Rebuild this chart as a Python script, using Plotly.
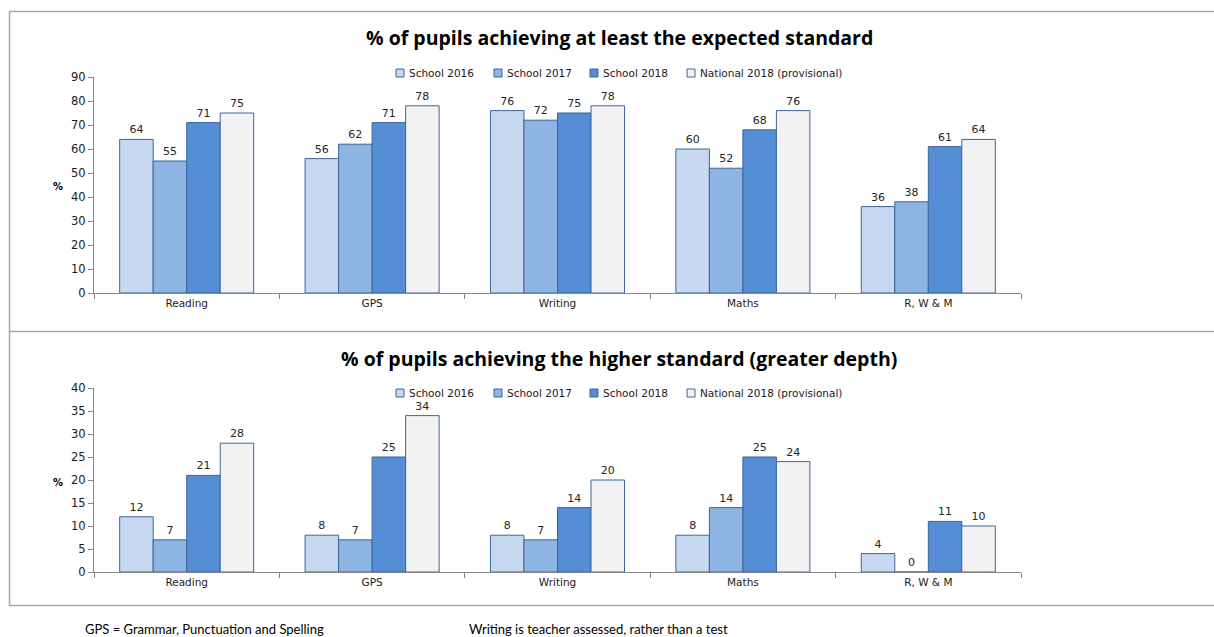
import plotly.graph_objects as go

categories = ["Reading", "GPS", "Writing", "Maths", "R, W & M"]
series_names = ["School 2016", "School 2017", "School 2018", "National 2018 (provisional)"]

expected_2016 = [64, 56, 76, 60, 36]
expected_2017 = [55, 62, 72, 52, 38]
expected_2018 = [71, 71, 75, 68, 61]
expected_nat = [75, 78, 78, 76, 64]

higher_2016 = [12, 8, 8, 8, 4]
higher_2017 = [7, 7, 7, 14, 0]
higher_2018 = [21, 25, 14, 25, 11]
higher_nat = [28, 34, 20, 24, 10]

title_top = "% of pupils achieving at least the expected standard"
title_bottom = "% of pupils achieving the higher standard (greater depth)"
note_left = "GPS = Grammar, Punctuation and Spelling"
note_right = "Writing is teacher assessed, rather than a test"

colors = ["#C6D9F1", "#8EB4E3", "#558ED5", "#F2F2F2"]
edge = "#3C659A"
W, H = 1214, 637
OFF = 0  # page body margin removed via post_script
FONT = "DejaVu Sans"
TFONT = "Open Sans"
NFONT = "Lato"

def px_x(x):
    return (x - OFF) / W

def px_y(y):
    return 1 - (y - OFF) / H

fig = go.Figure()

top_sets = [expected_2016, expected_2017, expected_2018, expected_nat]
bot_sets = [higher_2016, higher_2017, higher_2018, higher_nat]

for name, vals, c in zip(series_names, top_sets, colors):
    fig.add_trace(go.Bar(x=categories, y=vals, name=name, marker=dict(color=c, line=dict(color=edge, width=1)),
                         text=vals, textposition="outside", cliponaxis=False,
                         textfont=dict(size=11, color="#262626", family=FONT),
                         xaxis="x", yaxis="y", showlegend=False))
for name, vals, c in zip(series_names, bot_sets, colors):
    fig.add_trace(go.Bar(x=categories, y=vals, name=name, marker=dict(color=c, line=dict(color=edge, width=1)),
                         text=vals, textposition="outside", cliponaxis=False,
                         textfont=dict(size=11, color="#262626", family=FONT),
                         xaxis="x2", yaxis="y2", showlegend=False))

x_dom = [px_x(94), px_x(1021)]
axis_common = dict(showgrid=False, zeroline=False, showline=True, linecolor="#868686", linewidth=1,
                   ticks="outside", tickcolor="#868686", ticklen=5, fixedrange=True)
xfont = dict(size=10.5, family=FONT, color="#1a1a1a")
yfont = dict(size=11.5, family=FONT, color="#1a1a1a")

fig.update_layout(
    width=W, height=H,
    margin=dict(l=0, r=0, t=0, b=0, autoexpand=False),
    paper_bgcolor="white", plot_bgcolor="white",
    barmode="group", bargap=0.277, bargroupgap=0,
    font=dict(family=FONT),
    xaxis=dict(domain=x_dom, anchor="y", tickson="boundaries", tickfont=xfont, **axis_common),
    yaxis=dict(domain=[px_y(293), px_y(77)], anchor="x", range=[0, 90], dtick=10, tickfont=yfont, **axis_common),
    xaxis2=dict(domain=x_dom, anchor="y2", tickson="boundaries", tickfont=xfont, **axis_common),
    yaxis2=dict(domain=[px_y(572), px_y(388)], anchor="x2", range=[0, 40], dtick=5, tickfont=yfont, **axis_common),
    showlegend=False,
)

annotations = [
    dict(text="<b>" + title_top + "</b>", x=px_x(619), y=px_y(37), font=dict(size=19.5, family=TFONT, color="#000")),
    dict(text="<b>" + title_bottom + "</b>", x=px_x(619), y=px_y(358), font=dict(size=19.5, family=TFONT, color="#000")),
    dict(text="<b>%</b>", x=px_x(58), y=px_y(186), font=dict(size=10, family=FONT, color="#000")),
    dict(text="<b>%</b>", x=px_x(58), y=px_y(482), font=dict(size=10, family=FONT, color="#000")),
    dict(text=note_left, x=px_x(83), y=px_y(629), xanchor="left", font=dict(size=13, family=NFONT, color="#000")),
    dict(text=note_right, x=px_x(467), y=px_y(629), xanchor="left", font=dict(size=13, family=NFONT, color="#000")),
]

shapes = [
    dict(type="rect", xref="paper", yref="paper", x0=px_x(9.5), x1=px_x(1240), y0=px_y(605.5), y1=px_y(11.5),
         line=dict(color="#A6A6A6", width=1.5)),
    dict(type="line", xref="paper", yref="paper", x0=px_x(9.5), x1=px_x(1240), y0=px_y(331.5), y1=px_y(331.5),
         line=dict(color="#A6A6A6", width=1.5)),
]

# manual legends (one per chart)
legend_left = [396, 494, 590, 687]
for ly in (73, 393):
    for name, c, lx in zip(series_names, colors, legend_left):
        shapes.append(dict(type="rect", xref="paper", yref="paper",
                           x0=px_x(lx), x1=px_x(lx + 8), y0=px_y(ly + 4), y1=px_y(ly - 4),
                           fillcolor=c, line=dict(color=edge, width=1)))
        annotations.append(dict(text=name, x=px_x(lx + 11), y=px_y(ly), xanchor="left",
                                font=dict(size=10.5, family=FONT, color="#1a1a1a")))

for a in annotations:
    a.setdefault("xanchor", "center")
    a.update(xref="paper", yref="paper", yanchor="middle", showarrow=False)

fig.update_layout(annotations=annotations, shapes=shapes)

fig.write_html("out.html", config={"displayModeBar": False},
               post_script="document.body.style.margin='0';document.body.style.overflow='hidden';")
